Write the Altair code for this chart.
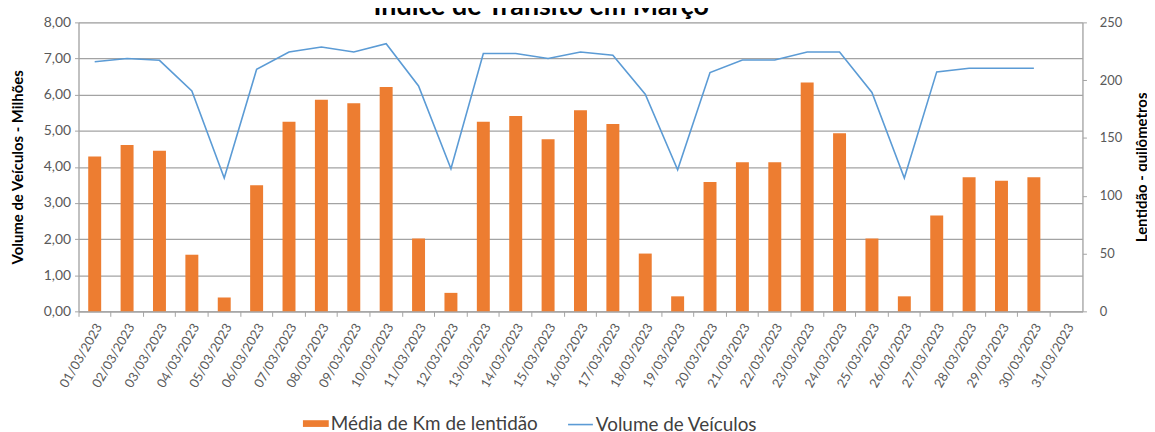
import altair as alt
import pandas as pd

titulo = "Índice de Trânsito em Março"
dias = [
    "01/03/2023", "02/03/2023", "03/03/2023", "04/03/2023", "05/03/2023",
    "06/03/2023", "07/03/2023", "08/03/2023", "09/03/2023", "10/03/2023",
    "11/03/2023", "12/03/2023", "13/03/2023", "14/03/2023", "15/03/2023",
    "16/03/2023", "17/03/2023", "18/03/2023", "19/03/2023", "20/03/2023",
    "21/03/2023", "22/03/2023", "23/03/2023", "24/03/2023", "25/03/2023",
    "26/03/2023", "27/03/2023", "28/03/2023", "29/03/2023", "30/03/2023",
    "31/03/2023",
]
# Média de Km de lentidão (eixo direito)
lentidao_km = [
    134, 144, 139, 49, 12, 109, 164, 183, 180, 194,
    63, 16, 164, 169, 149, 174, 162, 50, 13, 112,
    129, 129, 198, 154, 63, 13, 83, 116, 113, 116,
    None,
]
# Volume de Veículos em milhões (eixo esquerdo)
volume_milhoes = [
    6.91, 7.00, 6.95, 6.10, 3.69, 6.70, 7.18, 7.32, 7.18, 7.41,
    6.24, 3.95, 7.14, 7.14, 7.00, 7.18, 7.09, 6.01, 3.92, 6.61,
    6.96, 6.96, 7.18, 7.18, 6.06, 3.69, 6.63, 6.73, 6.73, 6.73,
    None,
]
serie_barras = "Média de Km de lentidão"
serie_linha = "Volume de Veículos"
left_ticks = [0, 1, 2, 3, 4, 5, 6, 7, 8]
right_ticks = [0, 50, 100, 150, 200, 250]

df = pd.DataFrame({
    "dia": dias, "km": lentidao_km, "vol": volume_milhoes,
    "sb": [serie_barras] * len(dias), "sl": [serie_linha] * len(dias),
})

FONT = "Lato"
GRID = "#a3a3a3"
LABEL = "#595959"

x_enc = alt.X(
    "dia:N", sort=dias, title=None,
    scale=alt.Scale(paddingInner=0.6, paddingOuter=0.3),
    axis=alt.Axis(
        labelAngle=-60, labelAlign="right", labelBaseline="middle",
        bandPosition=-0.75, labelOffset=4.5,
        tickSize=5, tickColor=GRID, domainColor=GRID, domainWidth=1.2,
        labelColor=LABEL, labelFontSize=13, labelFont=FONT, labelPadding=8,
        grid=False,
    ),
)

bars = alt.Chart(df).mark_bar().encode(
    x=x_enc,
    y=alt.Y(
        "km:Q", scale=alt.Scale(domain=[0, 250]),
        axis=alt.Axis(
            orient="right", values=right_ticks, grid=False,
            title="Lentidão - quilômetros", titleFont=FONT, titleFontSize=15,
            titleFontWeight="bold", titleColor="black", titlePadding=28,
            titleAngle=-90,
            labelFont=FONT, labelFontSize=13, labelColor=LABEL, labelPadding=13,
            tickSize=4, tickColor=GRID, domainColor=GRID, domainWidth=1.2,
        ),
    ),
    color=alt.Color(
        "sb:N",
        scale=alt.Scale(domain=[serie_barras], range=["#ED7D31"]),
        legend=alt.Legend(
            orient="none", legendX=226, legendY=391, title=None, padding=0,
            symbolType="M-1,-0.26H1V0.26H-1Z", symbolSize=676, symbolStrokeWidth=0,
            labelFont=FONT, labelFontSize=19, labelColor="#404040", labelOffset=2,
            labelLimit=0,
        ),
    ),
)

line = alt.Chart(df).mark_line(strokeWidth=1.6).encode(
    x=x_enc,
    y=alt.Y(
        "vol:Q", scale=alt.Scale(domain=[0, 8]),
        axis=alt.Axis(
            orient="left", values=left_ticks, grid=True, gridColor=GRID, gridWidth=1.3,
            labelExpr="replace(format(datum.value, '.2f'), '.', ',')",
            title="Volume de Veículos  -  Milhões", titleFont=FONT, titleFontSize=15,
            titleFontWeight="bold", titleColor="black", titlePadding=18,
            labelFont=FONT, labelFontSize=14, labelColor=LABEL, labelPadding=4,
            tickSize=4, tickColor=GRID, domainColor=GRID, domainWidth=1.2,
        ),
    ),
    stroke=alt.Stroke(
        "sl:N",
        scale=alt.Scale(domain=[serie_linha], range=["#5B9BD5"]),
        legend=alt.Legend(
            orient="none", legendX=492, legendY=391.5, title=None, padding=0,
            symbolType="stroke", symbolSize=625, symbolStrokeWidth=1.6,
            labelFont=FONT, labelFontSize=19, labelColor="#404040", labelOffset=2,
            labelLimit=0,
        ),
    ),
)

title_layer = alt.Chart(pd.DataFrame({"t": [titulo]})).mark_text(
    font=FONT, fontSize=27, fontWeight="bold", color="black",
    align="center", baseline="alphabetic",
).encode(text="t:N", x=alt.value(466), y=alt.value(-7))

chart = alt.layer(bars, line, title_layer).resolve_scale(y="independent").properties(
    width=1011, height=291,
    padding={"left": 71, "top": 13, "right": 65, "bottom": 120},
    autosize=alt.AutoSizeParams(type="none"),
).configure_view(stroke=None).configure(background="white")

chart.save("out.html", embed_options={"renderer": "svg", "actions": False})
